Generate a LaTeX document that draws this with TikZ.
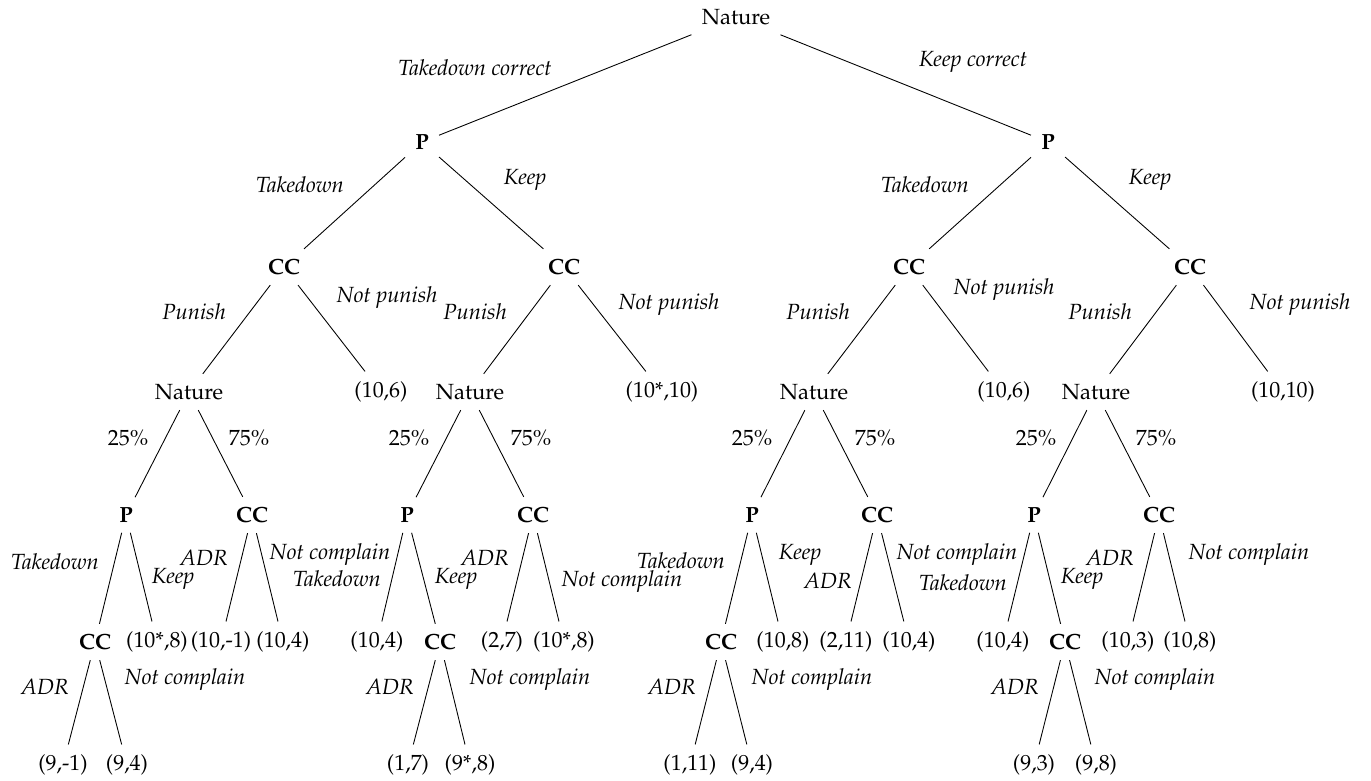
\documentclass[tikz,border=0pt]{standalone}
\usepackage[T1]{fontenc}
\usepackage{mathpazo}
\tikzset{
  % nodo del caso (Nature)
  chance/.style={inner sep=4.5pt},
  % nodo di un giocatore
  player/.style={inner sep=4.5pt, font=\bfseries},
  % esito finale
  payoff/.style={inner sep=4.5pt},
  % etichetta di una mossa
  act/.style={font=\itshape, inner sep=0pt},
  % probabilita'
  prob/.style={inner sep=0pt},
  % ramo dell'albero
  branch/.style={draw=black, line width=0.4pt},
}
\begin{document}
\begin{tikzpicture}[x=0.016cm, y=-0.016cm]
  \useasboundingbox (0,0) rectangle (1371,780);
  % nodi
  \node[chance] (n0) at (736,17) {Nature};
  \foreach \n/\x in {n1/189, n2/470, n3/814, n4/1096}
    \node[chance] (\n) at (\x,392) {Nature};
  \foreach \n/\x/\y/\t in {p1/422/142/P, p2/1048/142/P,
      c1/284/267/CC, c2/564/267/CC, c3/909/267/CC, c4/1190/267/CC,
      p11/126/515/P, c11/252/515/CC, p21/407/515/P, c21/533/515/CC,
      p31/752/515/P, c31/877/515/CC, p41/1034/515/P, c41/1159/515/CC,
      c12/95/642/CC, c22/440/642/CC, c32/721/642/CC, c42/1065/642/CC}
    \node[player] (\n) at (\x,\y) {\t};
  \foreach \n/\x/\y/\t in {r1/381/392/{(10,6)}, r2/662/392/{(10*,10)},
      r3/1004/392/{(10,6)}, r4/1283/392/{(10,10)},
      r12/157/642/{(10*,8)}, r13/221/642/{(10,-1)}, r14/283/642/{(10,4)},
      r22/377/642/{(10,4)}, r23/502/642/{(2,7)}, r24/564/642/{(10*,8)},
      r32/783/642/{(10,8)}, r33/846/642/{(2,11)}, r34/909/642/{(10,4)},
      r42/1003/642/{(10,4)}, r43/1128/642/{(10,3)}, r44/1190/642/{(10,8)},
      r15/63/765/{(9,-1)}, r16/127/765/{(9,4)}, r25/408/765/{(1,7)},
      r26/470/765/{(9*,8)}, r35/690/765/{(1,11)}, r36/752/765/{(9,4)},
      r45/1034/765/{(9,3)}, r46/1096/765/{(9,8)}}
    \node[payoff] (\n) at (\x,\y) {\t};
  % rami
  \foreach \a/\b in {n0/p1, n0/p2, p1/c1, p1/c2, p2/c3, p2/c4,
      c1/n1, c1/r1, c2/n2, c2/r2, c3/n3, c3/r3, c4/n4, c4/r4,
      n1/p11, n1/c11, n2/p21, n2/c21, n3/p31, n3/c31, n4/p41, n4/c41,
      p11/c12, p11/r12, c11/r13, c11/r14, p21/r22, p21/c22, c21/r23, c21/r24,
      p31/c32, p31/r32, c31/r33, c31/r34, p41/r42, p41/c42, c41/r43, c41/r44,
      c12/r15, c12/r16, c22/r25, c22/r26, c32/r35, c32/r36, c42/r45, c42/r46}
    \draw[branch] (\a) -- (\b);
  % mosse
  \foreach \x/\y/\t [count=\i] in {475/68/Takedown correct, 973/62/Keep correct,
      300/185/Takedown, 525/180/Keep, 925/185/Takedown, 1150/180/Keep,
      194/312/Punish, 387/298/Not punish, 475/312/Punish, 669/305/Not punish,
      818/312/Punish, 1004/290/Not punish, 1100/312/Punish, 1300/305/Not punish,
      55/562/Takedown, 173/579/Keep, 204/558/ADR, 330/555/Not complain,
      337/579/Takedown, 456/579/Keep, 485/558/ADR, 622/582/Not complain,
      681/561/Takedown, 800/555/Keep, 828/581/ADR, 957/555/Not complain,
      963/583/Takedown, 1082/579/Keep, 1110/558/ADR, 1249/555/Not complain,
      45/687/ADR, 185/680/Not complain, 390/687/ADR, 530/680/Not complain,
      672/687/ADR, 812/680/Not complain, 1015/687/ADR, 1155/680/Not complain}
    \node[act] (m\i) at (\x,\y) {\t};
  % probabilita'
  \foreach \x/\t [count=\i] in {128/25, 249/75, 409/25, 531/75,
      752/25, 875/75, 1036/25, 1156/75}
    \node[prob] (q\i) at (\x,438) {\t\%};
\end{tikzpicture}
\end{document}
